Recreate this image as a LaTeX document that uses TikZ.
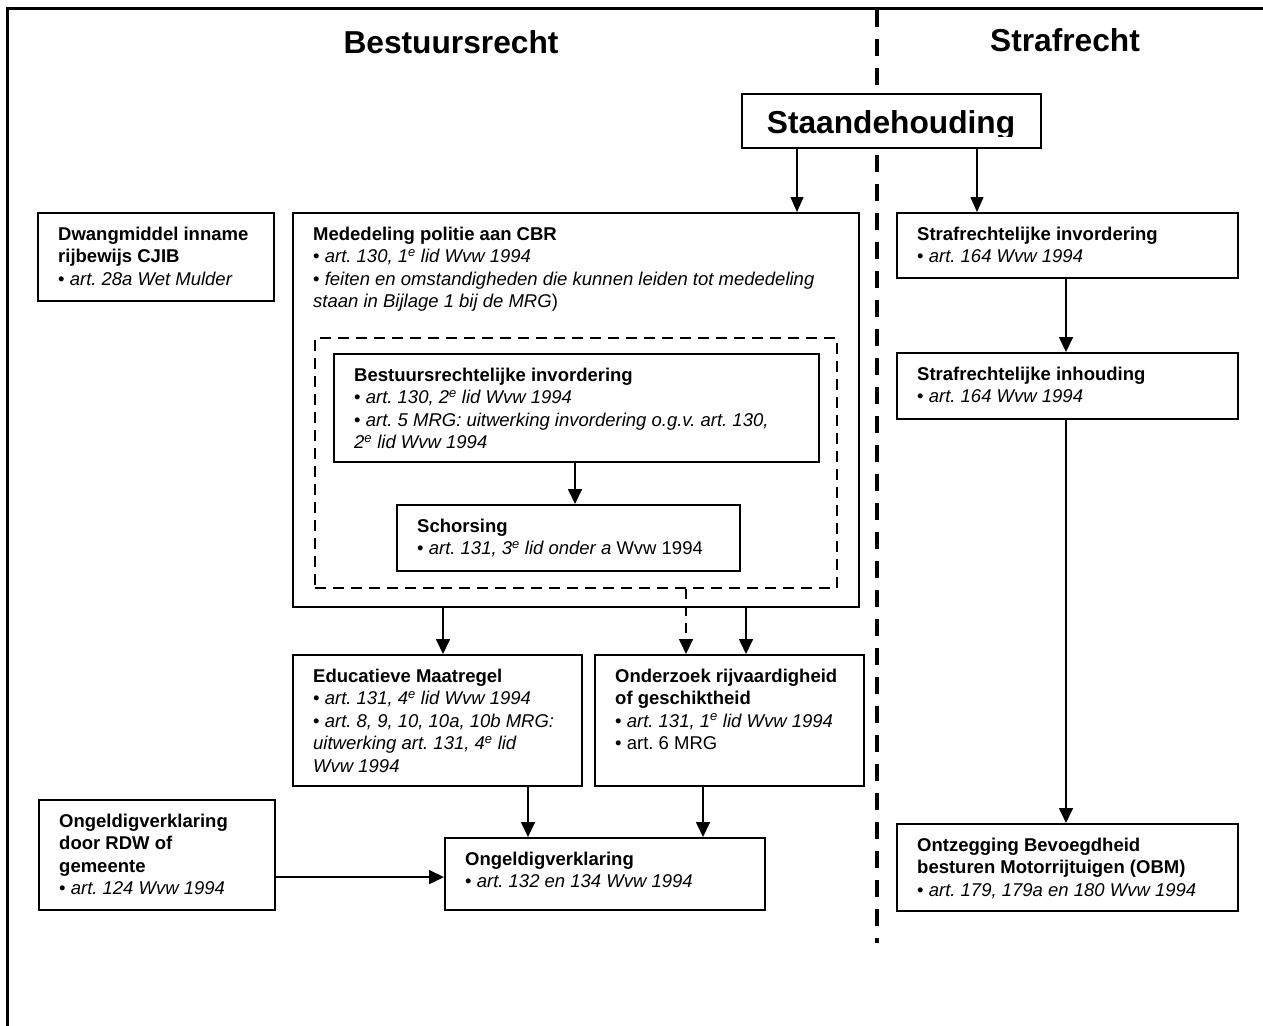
\documentclass[tikz,border=0pt]{standalone}
\usepackage{fontspec}
\setmainfont{Liberation Sans}
\usetikzlibrary{arrows.meta}
\frenchspacing
\begin{document}
\begin{tikzpicture}[x=1pt,y=-1pt,
  box/.style={draw, line width=1.6pt, rectangle, anchor=north west, inner sep=0pt, fill=white},
  dbox/.style={draw, line width=2pt, rectangle, anchor=north west, inner sep=0pt, dash pattern=on 11pt off 7pt},
  txt/.style={anchor=north west, align=left, inner sep=0pt, font=\fontsize{18.5}{22.5}\selectfont\frenchspacing},
  arr/.style={line width=1.7pt, -{Triangle[length=15pt,width=14pt]}},
  thinarr/.style={line width=1.2pt, -{Triangle[length=15pt,width=13pt]}},
  dasharr/.style={arr, dash pattern=on 10pt off 7pt},
  big/.style={font=\fontsize{31.7}{36}\selectfont\bfseries, inner sep=0pt, anchor=base},
  divider/.style={line width=4pt, dash pattern=on 17pt off 12pt},
  frameline/.style={line width=3pt, line join=miter}
]
\useasboundingbox (0,0) rectangle (1263,1025);
% frame
\draw[frameline] (7,1030) -- (7,8.5) -- (1270,8.5);
% titles
\node[big] (tbest) at (451,53) {Bestuursrecht};
\node[big] (tstraf) at (1065,52) {Strafrecht};
% divider
\draw[divider] (877,10) -- (877,943);
% Staandehouding
\node[box, minimum width=299pt, minimum height=54pt] (stand) at (741,93) {};
\begin{scope}
  \clip (741,93) rectangle (1040,136.5);
  \node[big] (standtxt) at (891,133) {Staandehouding};
\end{scope}
% boxes
\node[box, minimum width=236pt, minimum height=88pt] (dwang) at (37,212) {};
\node[box, minimum width=566pt, minimum height=394pt] (meded) at (292,212) {};
\node[dbox, minimum width=522pt, minimum height=250pt] (dashb) at (314,337) {};
\node[box, minimum width=485pt, minimum height=108pt] (bestinv) at (333,353) {};
\node[box, minimum width=343pt, minimum height=66pt] (schors) at (396,504) {};
\node[box, minimum width=289pt, minimum height=131pt] (educ) at (292,654) {};
\node[box, minimum width=269pt, minimum height=131pt] (onderz) at (594,654) {};
\node[box, minimum width=320pt, minimum height=72pt] (ongeld) at (444,837) {};
\node[box, minimum width=236pt, minimum height=110pt] (rdw) at (38,799) {};
\node[box, minimum width=341pt, minimum height=65pt] (strinv) at (896,212) {};
\node[box, minimum width=341pt, minimum height=66pt] (strinh) at (896,352) {};
\node[box, minimum width=341pt, minimum height=87pt] (obm) at (896,823) {};
% texts
\node[txt] (dwangt) at (58,224.25) {\strut\textbf{Dwangmiddel inname}\\\textbf{rijbewijs CJIB}\\• \textit{art. 28a Wet Mulder}};
\node[txt] (dedet) at (313,224.25) {\strut\textbf{Mededeling politie aan CBR}\\• \textit{art. 130, 1\textsuperscript{e} lid Wvw 1994}\\• \textit{feiten en omstandigheden die kunnen leiden tot mededeling}\\\textit{staan in Bijlage 1 bij de MRG})};
\node[txt] (bestinvt) at (354,365.25) {\strut\textbf{Bestuursrechtelijke invordering}\\• \textit{art. 130, 2\textsuperscript{e} lid Wvw 1994}\\• \textit{art. 5 MRG: uitwerking invordering o.g.v. art. 130,}\\\textit{2\textsuperscript{e} lid Wvw 1994}};
\node[txt] (schorst) at (417,516.25) {\strut\textbf{Schorsing}\\• \textit{art. 131, 3\textsuperscript{e} lid onder a} Wvw 1994};
\node[txt] (educt) at (313,666.25) {\strut\textbf{Educatieve Maatregel}\\• \textit{art. 131, 4\textsuperscript{e} lid Wvw 1994}\\• \textit{art. 8, 9, 10, 10a, 10b MRG:}\\\textit{uitwerking art. 131, 4\textsuperscript{e} lid}\\\textit{Wvw 1994}};
\node[txt] (onderzt) at (615,666.25) {\strut\textbf{Onderzoek rijvaardigheid}\\\textbf{of geschiktheid}\\• \textit{art. 131, 1\textsuperscript{e} lid Wvw 1994}\\• art. 6 MRG};
\node[txt] (ongeldt) at (465,849.25) {\strut\textbf{Ongeldigverklaring}\\• \textit{art. 132 en 134 Wvw 1994}};
\node[txt] (rdwt) at (59,811.25) {\strut\textbf{Ongeldigverklaring}\\\textbf{door RDW of}\\\textbf{gemeente}\\• \textit{art. 124 Wvw 1994}};
\node[txt] (strinvt) at (917,224.25) {\strut\textbf{Strafrechtelijke invordering}\\• \textit{art. 164 Wvw 1994}};
\node[txt] (strinht) at (917,364.25) {\strut\textbf{Strafrechtelijke inhouding}\\• \textit{art. 164 Wvw 1994}};
\node[txt] (obmt) at (917,835.25) {\strut\textbf{Ontzegging Bevoegdheid}\\\textbf{besturen Motorrijtuigen (OBM)}\\• \textit{art. 179, 179a en 180 Wvw 1994}};
% connectors
\draw[thinarr] ([xshift=56pt]stand.south west) coordinate (a1) -- (a1 |- meded.north);
\draw[thinarr] ([xshift=236pt]stand.south west) coordinate (a2) -- (a2 |- strinv.north);
\draw[arr] ([xshift=170pt]strinv.south west) coordinate (a3) -- (a3 |- strinh.north);
\draw[arr] ([xshift=170pt]strinh.south west) coordinate (a4) -- (a4 |- obm.north);
\draw[arr] ([xshift=242pt]bestinv.south west) coordinate (a5) -- (a5 |- schors.north);
\draw[arr] ([xshift=151pt]meded.south west) coordinate (a6) -- (a6 |- educ.north);
\draw[dasharr] ([xshift=372pt]dashb.south west) coordinate (a7) -- (a7 |- onderz.north);
\draw[arr] ([xshift=454pt]meded.south west) coordinate (a8) -- (a8 |- onderz.north);
\draw[arr] ([xshift=236pt]educ.south west) coordinate (a9) -- (a9 |- ongeld.north);
\draw[arr] ([xshift=109pt]onderz.south west) coordinate (a10) -- (a10 |- ongeld.north);
\draw[arr] ([yshift=33.5pt]rdw.south east) coordinate (a11) -- (a11 -| ongeld.west);
\end{tikzpicture}
\end{document}
